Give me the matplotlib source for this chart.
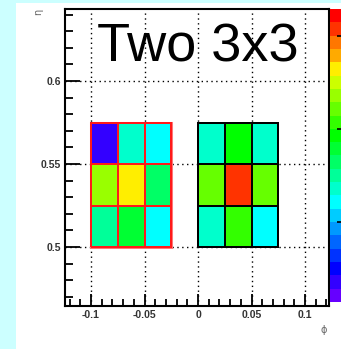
import numpy as np
import matplotlib
matplotlib.use("Agg")
import matplotlib.pyplot as plt
from matplotlib.colors import ListedColormap, BoundaryNorm
from matplotlib.patches import Rectangle

# palette bands, bottom (low) to top (high)
palette = ["#6600ff", "#3300ff", "#0000ff", "#0033ff", "#0066ff", "#0099ff",
           "#00ccff", "#00ffff", "#00ffcc", "#00ff99", "#00ff66", "#00ff33",
           "#00ff00", "#33ff00", "#66ff00", "#99ff00", "#ccff00", "#ffee00",
           "#ffaa00", "#ff7700", "#ff3300", "#ff0000"]
palette_ticks = [6, 13, 20]

# cell contents (rows from bottom to top)
left_vals = [[9, 11, 7],
             [15, 17, 10],
             [1, 8, 7]]
right_vals = [[8, 13, 7],
              [14, 20, 14],
              [8, 12, 8]]
left_x = [-0.1, -0.075, -0.05, -0.025]
right_x = [0.0, 0.025, 0.05, 0.075]
y_edges = [0.5, 0.525, 0.55, 0.575]

xticks = [-0.1, -0.05, 0, 0.05, 0.1]
xlabels = ["-0.1", "-0.05", "0", "0.05", "0.1"]
yticks = [0.5, 0.55, 0.6]
ylabels = ["0.5", "0.55", "0.6"]

W, H = 341, 349
fig = plt.figure(figsize=(W / 100, H / 100), dpi=100)
fig.patch.set_facecolor("#ccffff")
fig.patches.append(Rectangle((16 / W, 0), 1, 1 - 3 / H, transform=fig.transFigure,
                             facecolor="white", edgecolor="none", zorder=-5))

cmap = ListedColormap(palette)
norm = BoundaryNorm(np.arange(len(palette) + 1), len(palette))

ax = fig.add_axes([65 / W, 1 - 306 / H, (329 - 65) / W, (306 - 9) / H])
ax.set_xlim(-0.1243, 0.1224)
ax.set_ylim(0.4645, 0.6434)
ax.grid(True, color="black", linestyle=(0, (1, 2.5)), linewidth=1.0, zorder=0)
ax.set_axisbelow(True)

ax.pcolormesh(left_x, y_edges, np.array(left_vals), cmap=cmap, norm=norm,
              edgecolors="#ff1a1a", linewidth=1.1, zorder=2)
ax.pcolormesh(right_x, y_edges, np.array(right_vals), cmap=cmap, norm=norm,
              edgecolors="black", linewidth=1.1, zorder=2)
ax.add_patch(Rectangle((left_x[0], y_edges[0]), left_x[-1] - left_x[0],
                       y_edges[-1] - y_edges[0], fill=False,
                       edgecolor="#ff7777", linewidth=2.2, zorder=1.9))

ax.set_xticks(xticks)
ax.set_xticklabels(xlabels)
ax.set_yticks(yticks)
ax.set_yticklabels(ylabels)
ax.set_xticks(np.arange(-0.12, 0.121, 0.01), minor=True)
ax.set_yticks(np.arange(0.47, 0.641, 0.01), minor=True)
ax.tick_params(which="major", direction="in", length=9, width=1.3,
               labelsize=7.5, pad=3, colors="black", labelcolor="#333333")
ax.tick_params(which="minor", direction="in", length=5, width=1.3)
ax.tick_params(axis="y", which="major", length=11)
ax.tick_params(axis="y", which="minor", length=6)
for lab in ax.get_xticklabels() + ax.get_yticklabels():
    lab.set_fontweight("bold")
    lab.set_fontfamily("Liberation Sans")
for sp in ax.spines.values():
    sp.set_linewidth(1.5)

fig.text(97 / W, 1 - 62 / H, "Two 3x3", fontsize=39, family="Liberation Sans",
         ha="left", va="baseline")
fig.text(324 / W, 1 - 330 / H, "ϕ", fontsize=7, color="#666666", ha="center", va="center")
fig.text(38 / W, 1 - 12 / H, "η", fontsize=7, color="#666666", rotation=90,
         ha="center", va="center")

# palette on the right edge (partly cut off)
cax = fig.add_axes([330 / W, 1 - 302 / H, 13 / W, (302 - 9) / H])
cax.imshow(np.arange(len(palette))[::-1].reshape(-1, 1), cmap=cmap, norm=norm,
           aspect="auto", extent=[0, 1, 0, len(palette)])
cax.set_xticks([])
cax.yaxis.tick_right()
cax.set_yticks(palette_ticks)
cax.set_yticklabels([])
cax.tick_params(axis="y", direction="in", length=4, width=1.2, colors="black")
for sp in cax.spines.values():
    sp.set_visible(False)

fig.savefig("out.png", dpi=100)
